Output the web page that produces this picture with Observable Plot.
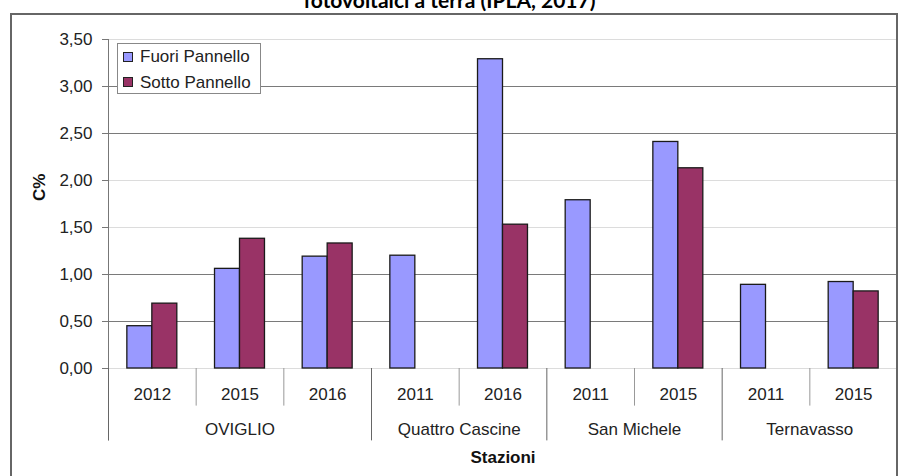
<!DOCTYPE html>
<html>
<head>
<meta charset="utf-8">
<script src="https://cdn.jsdelivr.net/npm/d3@7"></script>
<script src="https://cdn.jsdelivr.net/npm/@observablehq/plot@0.6"></script>
<style>
  html, body { margin: 0; padding: 0; background: #fff; }
  #wrap { position: relative; width: 899px; height: 476px; overflow: hidden; font-family: "Liberation Sans", Arial, sans-serif; }
  #title { position: absolute; left: 0; width: 899px; top: -11px; text-align: center; font-family: Lato, "Liberation Sans", sans-serif; font-weight: bold; font-size: 21px; line-height: 22px; color: #000; }
  #frame { position: absolute; left: 10px; top: 13px; width: 884px; height: 480px; border: 2px solid #666; pointer-events: none; }
  #legend { position: absolute; left: 117px; top: 43px; width: 142px; height: 49px; border: 1px solid #888; background: #fff; font-size: 17px; color: #222; }
  #legend .item { position: absolute; left: 5px; height: 20px; line-height: 20px; white-space: nowrap; }
  #legend .sw { display: inline-block; width: 8px; height: 8px; border: 1px solid #222; vertical-align: middle; margin-right: 7px; position: relative; top: -1px; }
  svg { display: block; }
</style>
</head>
<body>
<div id="wrap">
  <div id="title">fotovoltaici a terra (IPLA, 2017)</div>
  <div id="chart"></div>
  <div id="legend"></div>
  <div id="frame"></div>
</div>
<script>
// ---- data ----
const stations = ["OVIGLIO", "OVIGLIO", "OVIGLIO", "Quattro Cascine", "Quattro Cascine", "San Michele", "San Michele", "Ternavasso", "Ternavasso"];
const years = ["2012", "2015", "2016", "2011", "2016", "2011", "2015", "2011", "2015"];
const fuori = [0.45, 1.06, 1.19, 1.20, 3.29, 1.79, 2.41, 0.89, 0.92];
const sotto = [0.69, 1.38, 1.33, null, 1.53, null, 2.13, null, 0.82];
const seriesNames = ["Fuori Pannello", "Sotto Pannello"];
const seriesColors = ["#9999ff", "#993366"];
const yTicks = [0, 0.5, 1, 1.5, 2, 2.5, 3, 3.5];
const darkGrid = [0.5, 1, 2.5, 3];
const lightGrid = [0, 1.5, 2, 3.5];
const xTitle = "Stazioni";
const yTitle = "C%";

// ---- derived tables ----
const idx = years.map((_, i) => i);
const barHalf = 0.285; // bar width in category units
const bars = [];
idx.forEach(i => {
  if (fuori[i] != null) bars.push({i, s: seriesNames[0], v: fuori[i], x1: i - barHalf, x2: i});
  if (sotto[i] != null) bars.push({i, s: seriesNames[1], v: sotto[i], x1: i, x2: i + barHalf});
});
const groups = [];
stations.forEach((st, i) => {
  const g = groups.find(d => d.name === st);
  if (g) g.members.push(i); else groups.push({name: st, members: [i]});
});
groups.forEach(g => { g.center = d3.mean(g.members); g.start = g.members[0] - 0.5; });
const longSeps = groups.map(g => g.start).concat([idx.length - 0.5]);
const shortSeps = idx.filter(i => i > 0 && stations[i] === stations[i - 1]).map(i => i - 0.5);

const fmt = d => d.toFixed(2).replace(".", ",");

const chart = Plot.plot({
  width: 899,
  height: 476,
  marginLeft: 108,
  marginRight: 2,
  marginTop: 39,
  marginBottom: 108,
  style: { fontFamily: "'Liberation Sans', Arial, sans-serif", fontSize: "17px", color: "#222", background: "transparent" },
  x: { type: "linear", domain: [-0.5, idx.length - 0.5] },
  y: { domain: [0, 3.5] },
  color: { domain: seriesNames, range: seriesColors },
  marks: [
    Plot.ruleY(lightGrid, { stroke: "#dcdcdc", strokeWidth: 1 }),
    Plot.ruleY(darkGrid, { stroke: "#7a7a7a", strokeWidth: 1 }),
    Plot.rectY(bars, { x1: "x1", x2: "x2", y: "v", fill: "s", stroke: "#1a1a1a", strokeWidth: 1.3 }),
    Plot.ruleX([-0.5], { y1: 3.5, y2: -0.77, stroke: "#777" }),
    Plot.ruleX(longSeps, { y1: 0, y2: -0.77, stroke: "#666" }),
    Plot.ruleX(shortSeps, { y1: 0, y2: -0.4, stroke: "#999" }),
    Plot.axisY({ ticks: yTicks, tickFormat: fmt, tickSize: 6, tickPadding: 10, label: null, stroke: "#777", fontSize: 17 }),
    Plot.axisX({ ticks: idx, tickFormat: i => years[i], tickSize: 0, tickPadding: 19, label: null, fontSize: 17 }),
    Plot.text(groups, { x: "center", text: "name", frameAnchor: "bottom", lineAnchor: "middle", dy: 61, fontSize: 17, fill: "#222" }),
    Plot.text([xTitle], { frameAnchor: "bottom", lineAnchor: "middle", dy: 89, fontWeight: "bold", fontSize: 17, fill: "#111" }),
    Plot.text([yTitle], { frameAnchor: "left", dx: -69, dy: -3, rotate: -90, fontWeight: "bold", fontSize: 17, fill: "#111" })
  ]
});
document.getElementById("chart").appendChild(chart);

// legend
const leg = document.getElementById("legend");
seriesNames.forEach((n, k) => {
  const it = document.createElement("div");
  it.className = "item";
  it.style.top = (3 + k * 25.5) + "px";
  const sw = document.createElement("span");
  sw.className = "sw";
  sw.style.background = seriesColors[k];
  it.appendChild(sw);
  it.appendChild(document.createTextNode(n));
  leg.appendChild(it);
});
</script>
</body>
</html>
